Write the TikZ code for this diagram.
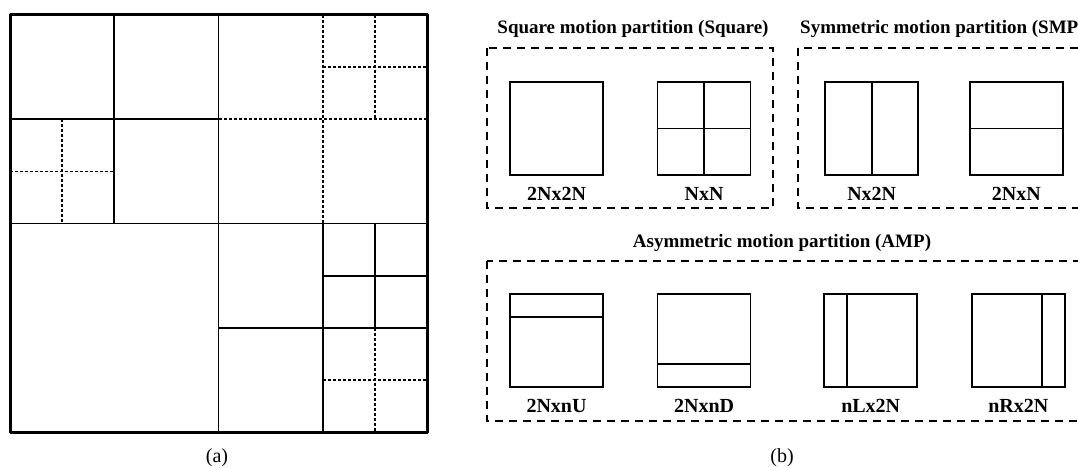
\documentclass[tikz,border=0pt]{standalone}
\usepackage{fontspec}
\setmainfont{Liberation Serif}
\usetikzlibrary{positioning,calc}
\tikzset{
  part/.style={draw,line width=1.6pt,minimum size=93pt,inner sep=0pt},
  plab/.style={font=\fontsize{20}{22}\selectfont\bfseries,inner sep=0pt},
  ptitle/.style={font=\fontsize{19}{21}\selectfont\bfseries,inner sep=0pt},
  grp/.style={draw,line width=1.7pt,dash pattern=on 8pt off 6pt},
  dot/.style={line width=1.5pt,dash pattern=on 3pt off 2pt},
  solid line/.style={line width=1.9pt}
}
\begin{document}
\begin{tikzpicture}[x=1pt,y=-1pt]
\clip (0,0) rectangle (1078,468);
\begin{scope}[shift={(10,15)},x=52.125pt,y=-52.125pt]
\draw[solid line] (4,0)--(4,8) (0,4)--(8,4) (2,0)--(2,4) (0,2)--(4,2) (6,4)--(6,8) (4,6)--(8,6) (7,4)--(7,6) (6,5)--(8,5);
\draw[dot] (1,2)--(1,4) (0,3)--(2,3) (6,0)--(6,4) (4,2)--(8,2) (7,0)--(7,2) (6,1)--(8,1) (7,6)--(7,8) (6,7)--(8,7);
\draw[line width=3pt,line join=round] (0,0) rectangle (8,8);
\end{scope}
\node[font=\fontsize{20}{22}\selectfont] (capa) at (217,458) {(a)};
\node[font=\fontsize{20}{22}\selectfont] (capb) at (782,458) {(b)};
\draw[grp] (487,48) rectangle (773,208);
\draw[grp] (798,48) rectangle (1100,208);
\draw[grp] (487,261) rectangle (1100,421);
\node[ptitle] (tsq) at (633,29) {Square motion partition (Square)};
\node[ptitle,anchor=west] (tsmp) at (800,29) {Symmetric motion partition (SMP)};
\node[ptitle] (tamp) at (782,243) {Asymmetric motion partition (AMP)};
\node[part] (s2n) at (556.5,128.5) {};
\node[part,right=53pt of s2n] (snn) {};
\node[part,right=73pt of snn] (sn2) {};
\node[part,right=50pt of sn2] (s2nn) {};
\node[part] (au) at (556.5,340.5) {};
\node[part,right=53pt of au] (ad) {};
\node[part,right=72pt of ad] (al) {};
\node[part,right=53pt of al] (ar) {};
\draw[line width=1.6pt] (snn.north)--(snn.south) (snn.west)--(snn.east) (sn2.north)--(sn2.south) (s2nn.west)--(s2nn.east);
\draw[line width=1.6pt] ($(au.north west)!0.25!(au.south west)$)--($(au.north east)!0.25!(au.south east)$)
  ($(ad.north west)!0.75!(ad.south west)$)--($(ad.north east)!0.75!(ad.south east)$)
  ($(al.north west)!0.25!(al.north east)$)--($(al.south west)!0.25!(al.south east)$)
  ($(ar.north west)!0.75!(ar.north east)$)--($(ar.south west)!0.75!(ar.south east)$);
\node[plab,below=11pt of s2n] (l2n) {2Nx2N};
\node[plab,below=11pt of snn] (lnn) {NxN};
\node[plab,below=11pt of sn2] (ln2) {Nx2N};
\node[plab,below=11pt of s2nn] (l2nn) {2NxN};
\node[plab,below=11pt of au] (lu) {2NxnU};
\node[plab,below=11pt of ad] (ld) {2NxnD};
\node[plab,below=11pt of al] (ll) {nLx2N};
\node[plab,below=11pt of ar] (lr) {nRx2N};
\end{tikzpicture}
\end{document}
